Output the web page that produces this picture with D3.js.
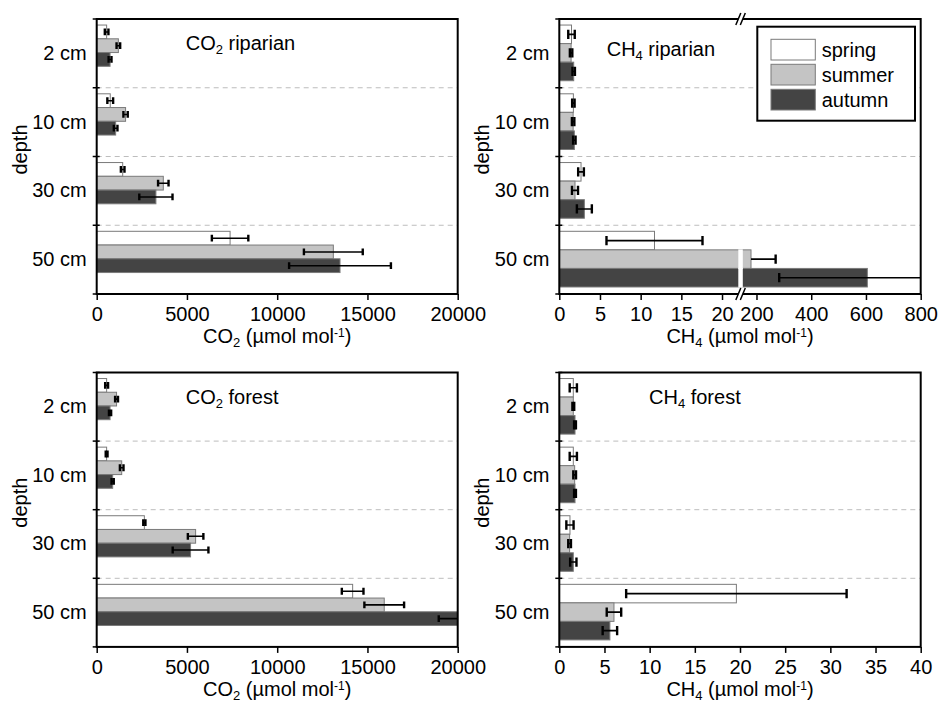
<!DOCTYPE html>
<html>
<head>
<meta charset="utf-8">
<script src="https://cdn.jsdelivr.net/npm/d3@7"></script>
<style>
body { margin: 0; background: #fff; }
text { font-family: "Liberation Sans", Arial, sans-serif; fill: #000; }
</style>
</head>
<body>
<svg id="chart" width="938" height="704"></svg>
<script>
const depths = ["2 cm", "10 cm", "30 cm", "50 cm"]
const seasons = ["spring", "summer", "autumn"]
const seasonColours = ["#ffffff", "#c4c4c4", "#444444"]

// one row per season (spring, summer, autumn), one value per depth
const co2RiparianMean = [[550, 750, 1440, 7390], [1200, 1600, 3690, 13110], [740, 1050, 3280, 13480]]
const co2RiparianErr  = [[100, 160, 100, 1010], [100, 120, 290, 1630], [80, 100, 920, 2820]]
const ch4RiparianMean = [[1.5, 1.73, 2.67, 11.7], [1.45, 1.7, 1.93, 180], [1.77, 1.85, 3.08, 605]]
const ch4RiparianErr  = [[0.4, 0.15, 0.35, 5.9], [0.15, 0.15, 0.37, 90], [0.15, 0.15, 0.92, 322]]
const co2ForestMean   = [[550, 550, 2640, 14180], [1100, 1385, 5480, 15930], [740, 885, 5200, 20000]]
const co2ForestErr    = [[80, 50, 60, 600], [80, 100, 430, 1100], [60, 60, 990, 1050]]
const ch4ForestMean   = [[1.55, 1.55, 1.18, 19.6], [1.55, 1.7, 1.14, 6.05], [1.74, 1.74, 1.55, 5.6]]
const ch4ForestErr    = [[0.4, 0.4, 0.4, 12.2], [0.1, 0.15, 0.15, 0.8], [0.1, 0.1, 0.35, 0.8]]

const co2Ticks = [0, 5000, 10000, 15000, 20000]
const ch4RiparianTicks = [0, 5, 10, 15, 20, 200, 400, 600, 800]
const ch4ForestTicks = [0, 5, 10, 15, 20, 25, 30, 35, 40]

var svg = d3.select("#chart")
svg.append("rect").attr("width", 938).attr("height", 704).attr("fill", "#fff")
var defs = svg.append("defs")
var fontSize = 20

// text with a subscript gas number and the unit with superscript
function gasText(sel, gas, sub, rest, sup, tail) {
  sel.append("tspan").text(gas)
  sel.append("tspan").text(sub).attr("font-size", 13).attr("dy", 4)
  sel.append("tspan").text(rest).attr("dy", -4)
  if (sup) {
    sel.append("tspan").text(sup).attr("font-size", 12).attr("dy", -6)
    sel.append("tspan").text(tail).attr("dy", 6)
  }
}

function drawPanel(p, idx) {
  var g = svg.append("g").attr("transform", "translate(" + p.left + "," + p.top + ")")
  var x = d3.scaleLinear().domain(p.domain).range(p.range)
  var y = d3.scaleBand().domain(depths).range([0, p.height])
  var bw = y.bandwidth()
  var barH = bw * p.barFrac
  var off = bw * 0.088

  defs.append("clipPath").attr("id", "clip" + idx)
    .append("rect").attr("width", p.width).attr("height", p.height)

  // dashed separators between depths
  g.selectAll(".grid").data(depths.slice(1)).enter().append("line")
    .attr("x1", 0).attr("x2", p.width)
    .attr("y1", d => y(d)).attr("y2", d => y(d))
    .attr("stroke", "#bdbdbd").attr("stroke-width", 1).attr("stroke-dasharray", "5,4")

  var rows = []
  seasons.forEach(function(s, i) {
    depths.forEach(function(d, j) {
      rows.push({ season: i, depth: d, v: p.mean[i][j], e: p.err[i][j] })
    })
  })
  rows.forEach(r => r.y = y(r.depth) + off + r.season * barH)

  var plot = g.append("g").attr("clip-path", "url(#clip" + idx + ")")
  plot.selectAll(".bar").data(rows).enter().append("rect")
    .attr("x", 0).attr("y", d => d.y)
    .attr("width", d => x(d.v)).attr("height", barH)
    .attr("fill", d => seasonColours[d.season])
    .attr("stroke", "#7a7a7a").attr("stroke-width", 1)

  // white gap through bars that cross the axis break
  if (p.breakAt) {
    var gx0 = x(p.breakAt[0]), gx1 = x(p.breakAt[1])
    plot.selectAll(".gap").data(rows.filter(d => d.v > p.breakAt[0])).enter().append("rect")
      .attr("x", gx0).attr("width", gx1 - gx0)
      .attr("y", d => d.y - 0.5).attr("height", barH + 1)
      .attr("fill", "#fff")
  }

  // error bars
  var capH = barH * 0.25
  rows.forEach(function(d) {
    var lo = d.v - d.e, hi = d.v + d.e, loCap = true
    if (p.breakAt && lo > p.breakAt[0] && lo < p.breakAt[1]) { lo = d.v; loCap = false }
    var cy = d.y + barH / 2
    plot.append("line").attr("x1", x(lo)).attr("x2", x(hi)).attr("y1", cy).attr("y2", cy)
      .attr("stroke", "#000").attr("stroke-width", 1.6)
    var caps = loCap ? [lo, hi] : [hi]
    caps.forEach(function(c) {
      plot.append("line").attr("x1", x(c)).attr("x2", x(c))
        .attr("y1", cy - capH).attr("y2", cy + capH)
        .attr("stroke", "#000").attr("stroke-width", 2.4)
    })
  })

  // frame
  g.append("rect").attr("width", p.width).attr("height", p.height)
    .attr("fill", "none").attr("stroke", "#000").attr("stroke-width", 2)

  // x axis
  var xAxis = g.append("g").attr("transform", "translate(0," + p.height + ")")
    .call(d3.axisBottom(x).tickValues(p.ticks).tickSize(6).tickPadding(7).tickFormat(d3.format("d")))
  xAxis.select(".domain").remove()
  xAxis.selectAll("line").attr("stroke", "#000").attr("stroke-width", 1.5)
  xAxis.attr("font-size", fontSize).attr("font-family", null)

  // y axis: labels at band centres, ticks at band edges
  var yAxis = g.append("g").call(d3.axisLeft(y).tickSize(0).tickPadding(10))
  yAxis.select(".domain").remove()
  yAxis.attr("font-size", fontSize).attr("font-family", null)
  g.selectAll(".ytick").data(depths.map(d => y(d)).concat([p.height])).enter().append("line")
    .attr("x1", -4).attr("x2", 3).attr("y1", d => d).attr("y2", d => d)
    .attr("stroke", "#000").attr("stroke-width", 1.5)

  // axis break marks
  if (p.breakAt) {
    [0, p.height].forEach(function(yy) {
      g.append("rect").attr("x", gx0).attr("y", yy - 3).attr("width", gx1 - gx0).attr("height", 6).attr("fill", "#fff")
      ;[gx0, gx1].forEach(function(bx) {
        g.append("line").attr("x1", bx - 2.5).attr("x2", bx + 2.5).attr("y1", yy + 6).attr("y2", yy - 6)
          .attr("stroke", "#000").attr("stroke-width", 1.5)
      })
    })
  }

  // depth label
  g.append("text").attr("transform", "translate(-70," + (p.height / 2 - 7) + ") rotate(-90)")
    .attr("text-anchor", "middle").attr("font-size", fontSize).text("depth")

  // x title
  var xt = g.append("text").attr("x", p.width / 2).attr("y", p.height + 49)
    .attr("text-anchor", "middle").attr("font-size", fontSize)
  gasText(xt, p.gas, p.sub, " (\u00b5mol mol", "-1", ")")

  // panel title
  var tt = g.append("text").attr("x", p.titleX).attr("y", p.titleY).attr("font-size", fontSize)
  gasText(tt, p.gas, p.sub, " " + p.site)

  if (p.legend) {
    var lg = g.append("g").attr("transform", "translate(198,7.7)")
    lg.append("rect").attr("width", 157.7).attr("height", 94)
      .attr("fill", "#fff").attr("stroke", "#000").attr("stroke-width", 2)
    lg.selectAll(".sw").data(seasons).enter().append("rect")
      .attr("x", 13.7).attr("y", (d, i) => 12.6 + i * 25)
      .attr("width", 44.3).attr("height", 20.7)
      .attr("fill", (d, i) => seasonColours[i]).attr("stroke", "#7a7a7a")
    lg.selectAll(".lt").data(seasons).enter().append("text")
      .attr("x", 64.4).attr("y", (d, i) => 30 + i * 25)
      .attr("font-size", fontSize).text(d => d)
  }
}

var panels = [
  { left: 96.7, top: 19, width: 361, height: 275, domain: [0, 20000], range: [0, 361], ticks: co2Ticks,
    mean: co2RiparianMean, err: co2RiparianErr, barFrac: 0.2, gas: "CO", sub: "2", site: "riparian",
    titleX: 89, titleY: 31 },
  { left: 559.3, top: 19, width: 361.4, height: 275, domain: [0, 22, 150, 800], range: [0, 179, 183.5, 361.4],
    ticks: ch4RiparianTicks, breakAt: [22, 150],
    mean: ch4RiparianMean, err: ch4RiparianErr, barFrac: 0.27, gas: "CH", sub: "4", site: "riparian",
    titleX: 47.4, titleY: 37, legend: true },
  { left: 96.7, top: 372.5, width: 361, height: 274.4, domain: [0, 20000], range: [0, 361], ticks: co2Ticks,
    mean: co2ForestMean, err: co2ForestErr, barFrac: 0.2, gas: "CO", sub: "2", site: "forest",
    titleX: 89, titleY: 31 },
  { left: 559.3, top: 372.5, width: 361.4, height: 274.4, domain: [0, 40], range: [0, 361.4], ticks: ch4ForestTicks,
    mean: ch4ForestMean, err: ch4ForestErr, barFrac: 0.27, gas: "CH", sub: "4", site: "forest",
    titleX: 89.7, titleY: 31 }
]

panels.forEach(drawPanel)
</script>
</body>
</html>
